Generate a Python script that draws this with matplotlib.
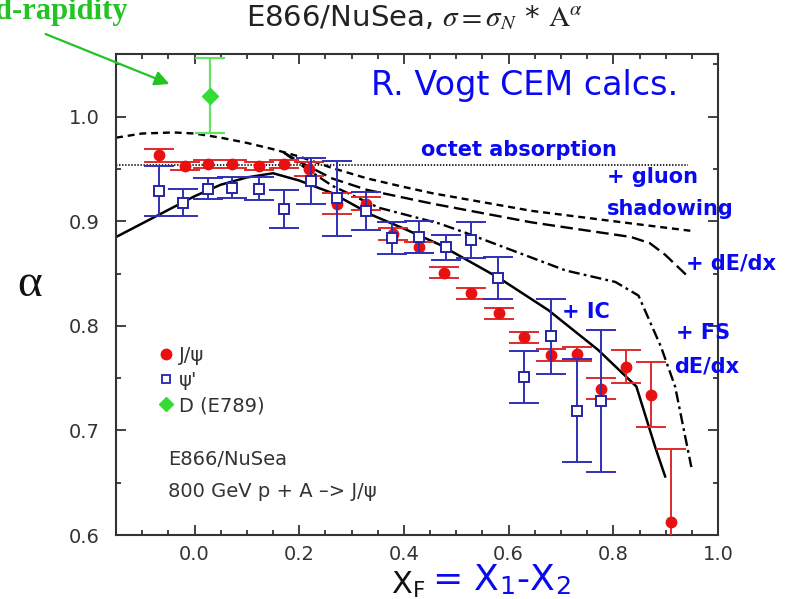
import numpy as np
import matplotlib.pyplot as plt
from matplotlib.lines import Line2D

plt.rcParams['mathtext.fontset'] = 'stix'
plt.rcParams['lines.scale_dashes'] = False

# J/psi alpha vs xF
jpsi_x = [-0.067, -0.019, 0.025, 0.072, 0.124, 0.171, 0.219, 0.272, 0.328, 0.379, 0.429,
          0.476, 0.528, 0.581, 0.629, 0.680, 0.730, 0.777, 0.825, 0.872, 0.910]
jpsi_a = [0.963, 0.953, 0.955, 0.955, 0.953, 0.955, 0.950, 0.917, 0.917, 0.888, 0.875,
          0.851, 0.831, 0.812, 0.789, 0.772, 0.773, 0.740, 0.761, 0.734, 0.612]
jpsi_err = [0.006, 0.004, 0.004, 0.004, 0.004, 0.004, 0.007, 0.010, 0.006, 0.006, 0.005,
            0.005, 0.005, 0.005, 0.005, 0.006, 0.007, 0.010, 0.016, 0.031, 0.070]

# psi' alpha vs xF
psi2_x = [-0.067, -0.023, 0.025, 0.072, 0.124, 0.171, 0.223, 0.272, 0.328, 0.377, 0.429,
          0.480, 0.528, 0.579, 0.629, 0.680, 0.730, 0.777]
psi2_a = [0.929, 0.918, 0.931, 0.932, 0.931, 0.912, 0.939, 0.922, 0.910, 0.884, 0.885,
          0.875, 0.882, 0.846, 0.751, 0.790, 0.719, 0.728]
psi2_err = [0.024, 0.013, 0.010, 0.010, 0.011, 0.018, 0.022, 0.036, 0.018, 0.015, 0.015,
            0.012, 0.017, 0.020, 0.025, 0.036, 0.049, 0.068]

# open charm D (E789)
d_x = [0.029]
d_a = [1.020]
d_err = [0.036]

# CEM calculations
octet_x = [-0.15, 0.943]
octet_a = [0.954, 0.954]

shad_x = [-0.15, -0.10, -0.04, 0.0, 0.05, 0.10, 0.15, 0.20, 0.263, 0.33, 0.39, 0.453,
          0.644, 0.834, 0.947]
shad_a = [0.980, 0.984, 0.985, 0.984, 0.980, 0.975, 0.969, 0.962, 0.951, 0.941, 0.934,
          0.927, 0.910, 0.898, 0.891]

dedx_x = [0.17, 0.20, 0.263, 0.33, 0.453, 0.644, 0.834, 0.87, 0.899, 0.943]
dedx_a = [0.966, 0.957, 0.941, 0.930, 0.917, 0.899, 0.885, 0.879, 0.868, 0.847]

fs_x = [0.17, 0.20, 0.263, 0.352, 0.467, 0.518, 0.709, 0.804, 0.848, 0.891, 0.918, 0.949]
fs_a = [0.966, 0.955, 0.934, 0.913, 0.898, 0.889, 0.853, 0.842, 0.829, 0.780, 0.742, 0.665]

ic_x = [-0.15, -0.10, -0.05, 0.0, 0.05, 0.10, 0.15, 0.20, 0.263, 0.339, 0.40, 0.467,
        0.581, 0.676, 0.771, 0.844, 0.880, 0.899]
ic_a = [0.885, 0.898, 0.911, 0.924, 0.935, 0.942, 0.946, 0.939, 0.927, 0.906, 0.893, 0.878,
        0.846, 0.815, 0.777, 0.742, 0.684, 0.656]

blue = '#0a0af0'
red = '#e81010'
navy = '#2424a8'
green = '#33dd33'
grey = '#333333'

fig = plt.figure(figsize=(7.98, 5.99), dpi=100)
ax = fig.add_axes([0.1454, 0.1068, 0.7544, 0.803])

# model curves
ax.plot(octet_x, octet_a, color='k', lw=1.2, dashes=(1, 1.2))
ax.plot(shad_x, shad_a, color='k', lw=1.7, dashes=(5, 3.5))
ax.plot(dedx_x, dedx_a, color='k', lw=1.7, dashes=(9, 4))
ax.plot(fs_x, fs_a, color='k', lw=1.7, dashes=(8, 3, 2, 3))
ax.plot(ic_x, ic_a, color='k', lw=1.8)

# data
ax.errorbar(jpsi_x, jpsi_a, yerr=jpsi_err, fmt='o', color=red, ecolor='#e02a2a',
            ms=7.5, capsize=10.5, elinewidth=1.4, capthick=1.4, zorder=3)
ax.errorbar(psi2_x, psi2_a, yerr=psi2_err, fmt='s', mfc='white', mec=navy, mew=1.4,
            ecolor='#3030b8', ms=6.5, capsize=10.5, elinewidth=1.4, capthick=1.4, zorder=4)
ax.errorbar(d_x, d_a, yerr=d_err, fmt='D', color=green, ecolor='#66e066',
            ms=8, capsize=10.5, elinewidth=1.6, capthick=1.6, zorder=4)

ax.set_xlim(-0.15, 1.0)
ax.set_ylim(0.6, 1.06)
ax.set_xticks(np.arange(0.0, 1.01, 0.2))
ax.set_xticks(np.arange(-0.15, 1.0, 0.05), minor=True)
ax.set_yticks(np.arange(0.6, 1.01, 0.1))
ax.set_yticks(np.arange(0.6, 1.06, 0.05), minor=True)
ax.xaxis.set_major_formatter(plt.FormatStrFormatter('%.1f'))
ax.yaxis.set_major_formatter(plt.FormatStrFormatter('%.1f'))
ax.tick_params(which='both', direction='in', top=True, right=True, colors=grey,
               labelsize=14, width=1.3)
ax.tick_params(which='major', length=7)
ax.tick_params(which='minor', length=3.5)
ax.tick_params(axis='y', pad=12)
ax.tick_params(axis='x', pad=7)
for s in ax.spines.values():
    s.set_color(grey)
    s.set_linewidth(1.5)

# legend
handles = [Line2D([], [], ls='none', marker='o', color=red, ms=7.5),
           Line2D([], [], ls='none', marker='s', mfc='white', mec=navy, mew=1.3, ms=5.5),
           Line2D([], [], ls='none', marker='D', color=green, ms=7.5)]
ax.legend(handles, ['J/ψ', "ψ'", 'D (E789)'], loc='upper left',
          bbox_to_anchor=(0.06, 0.41), frameon=False, fontsize=14, handlelength=0.6,
          handletextpad=0.4, labelspacing=0.32, borderaxespad=0, labelcolor=grey)

ax.text(-0.051, 0.672, 'E866/NuSea', fontsize=14, color=grey, va='center')
ax.text(-0.051, 0.642, '800 GeV p + A –> J/ψ', fontsize=14, color=grey, va='center')

# model labels
ax.text(0.337, 1.0295, 'R. Vogt CEM calcs.', fontsize=24, color=blue, va='center')
bold = dict(fontsize=15, color=blue, fontweight='bold', va='center')
ax.text(0.432, 0.968, 'octet absorption', **bold)
ax.text(0.787, 0.942, '+ gluon', **bold)
ax.text(0.787, 0.912, 'shadowing', **bold)
ax.text(0.939, 0.860, '+ dE/dx', **bold)
ax.text(0.701, 0.813, '+ IC', **bold)
ax.text(0.920, 0.793, '+ FS', **bold)
ax.text(0.916, 0.761, 'dE/dx', **bold)

# title and axis labels
fig.text(414 / 798, 1 - 18 / 599, r'E866/NuSea, $\sigma = \sigma_N$ * $\mathrm{A}^{\alpha}$',
         ha='center', va='center', fontsize=21, color='#222222')
fig.text(30 / 798, 1 - 285 / 599, 'α', family='Liberation Serif', fontsize=34,
         ha='center', va='center', color='#111111')
fig.text(391 / 798, 1 - 594 / 599, r'X$_\mathregular{F}$', fontsize=22, color='#111111',
         ha='left', va='baseline')
fig.text(432 / 798, 1 - 590 / 599, r'= X$_\mathregular{1}$-X$_\mathregular{2}$', fontsize=26,
         color=blue, ha='left', va='baseline')

# mid-rapidity pointer, running off the left edge
fig.text(128 / 798, 1 - 19 / 599, 'mid-rapidity', family='Liberation Serif', fontweight='bold',
         fontsize=22, color='#22c322', ha='right', va='baseline')
ax.annotate('', xy=(172, 599 - 85), xycoords='figure pixels',
            xytext=(43, 599 - 33), textcoords='figure pixels',
            arrowprops=dict(arrowstyle='-|>', color='#22c322', lw=1.6, mutation_scale=22))

fig.savefig('out.png', dpi=100)
